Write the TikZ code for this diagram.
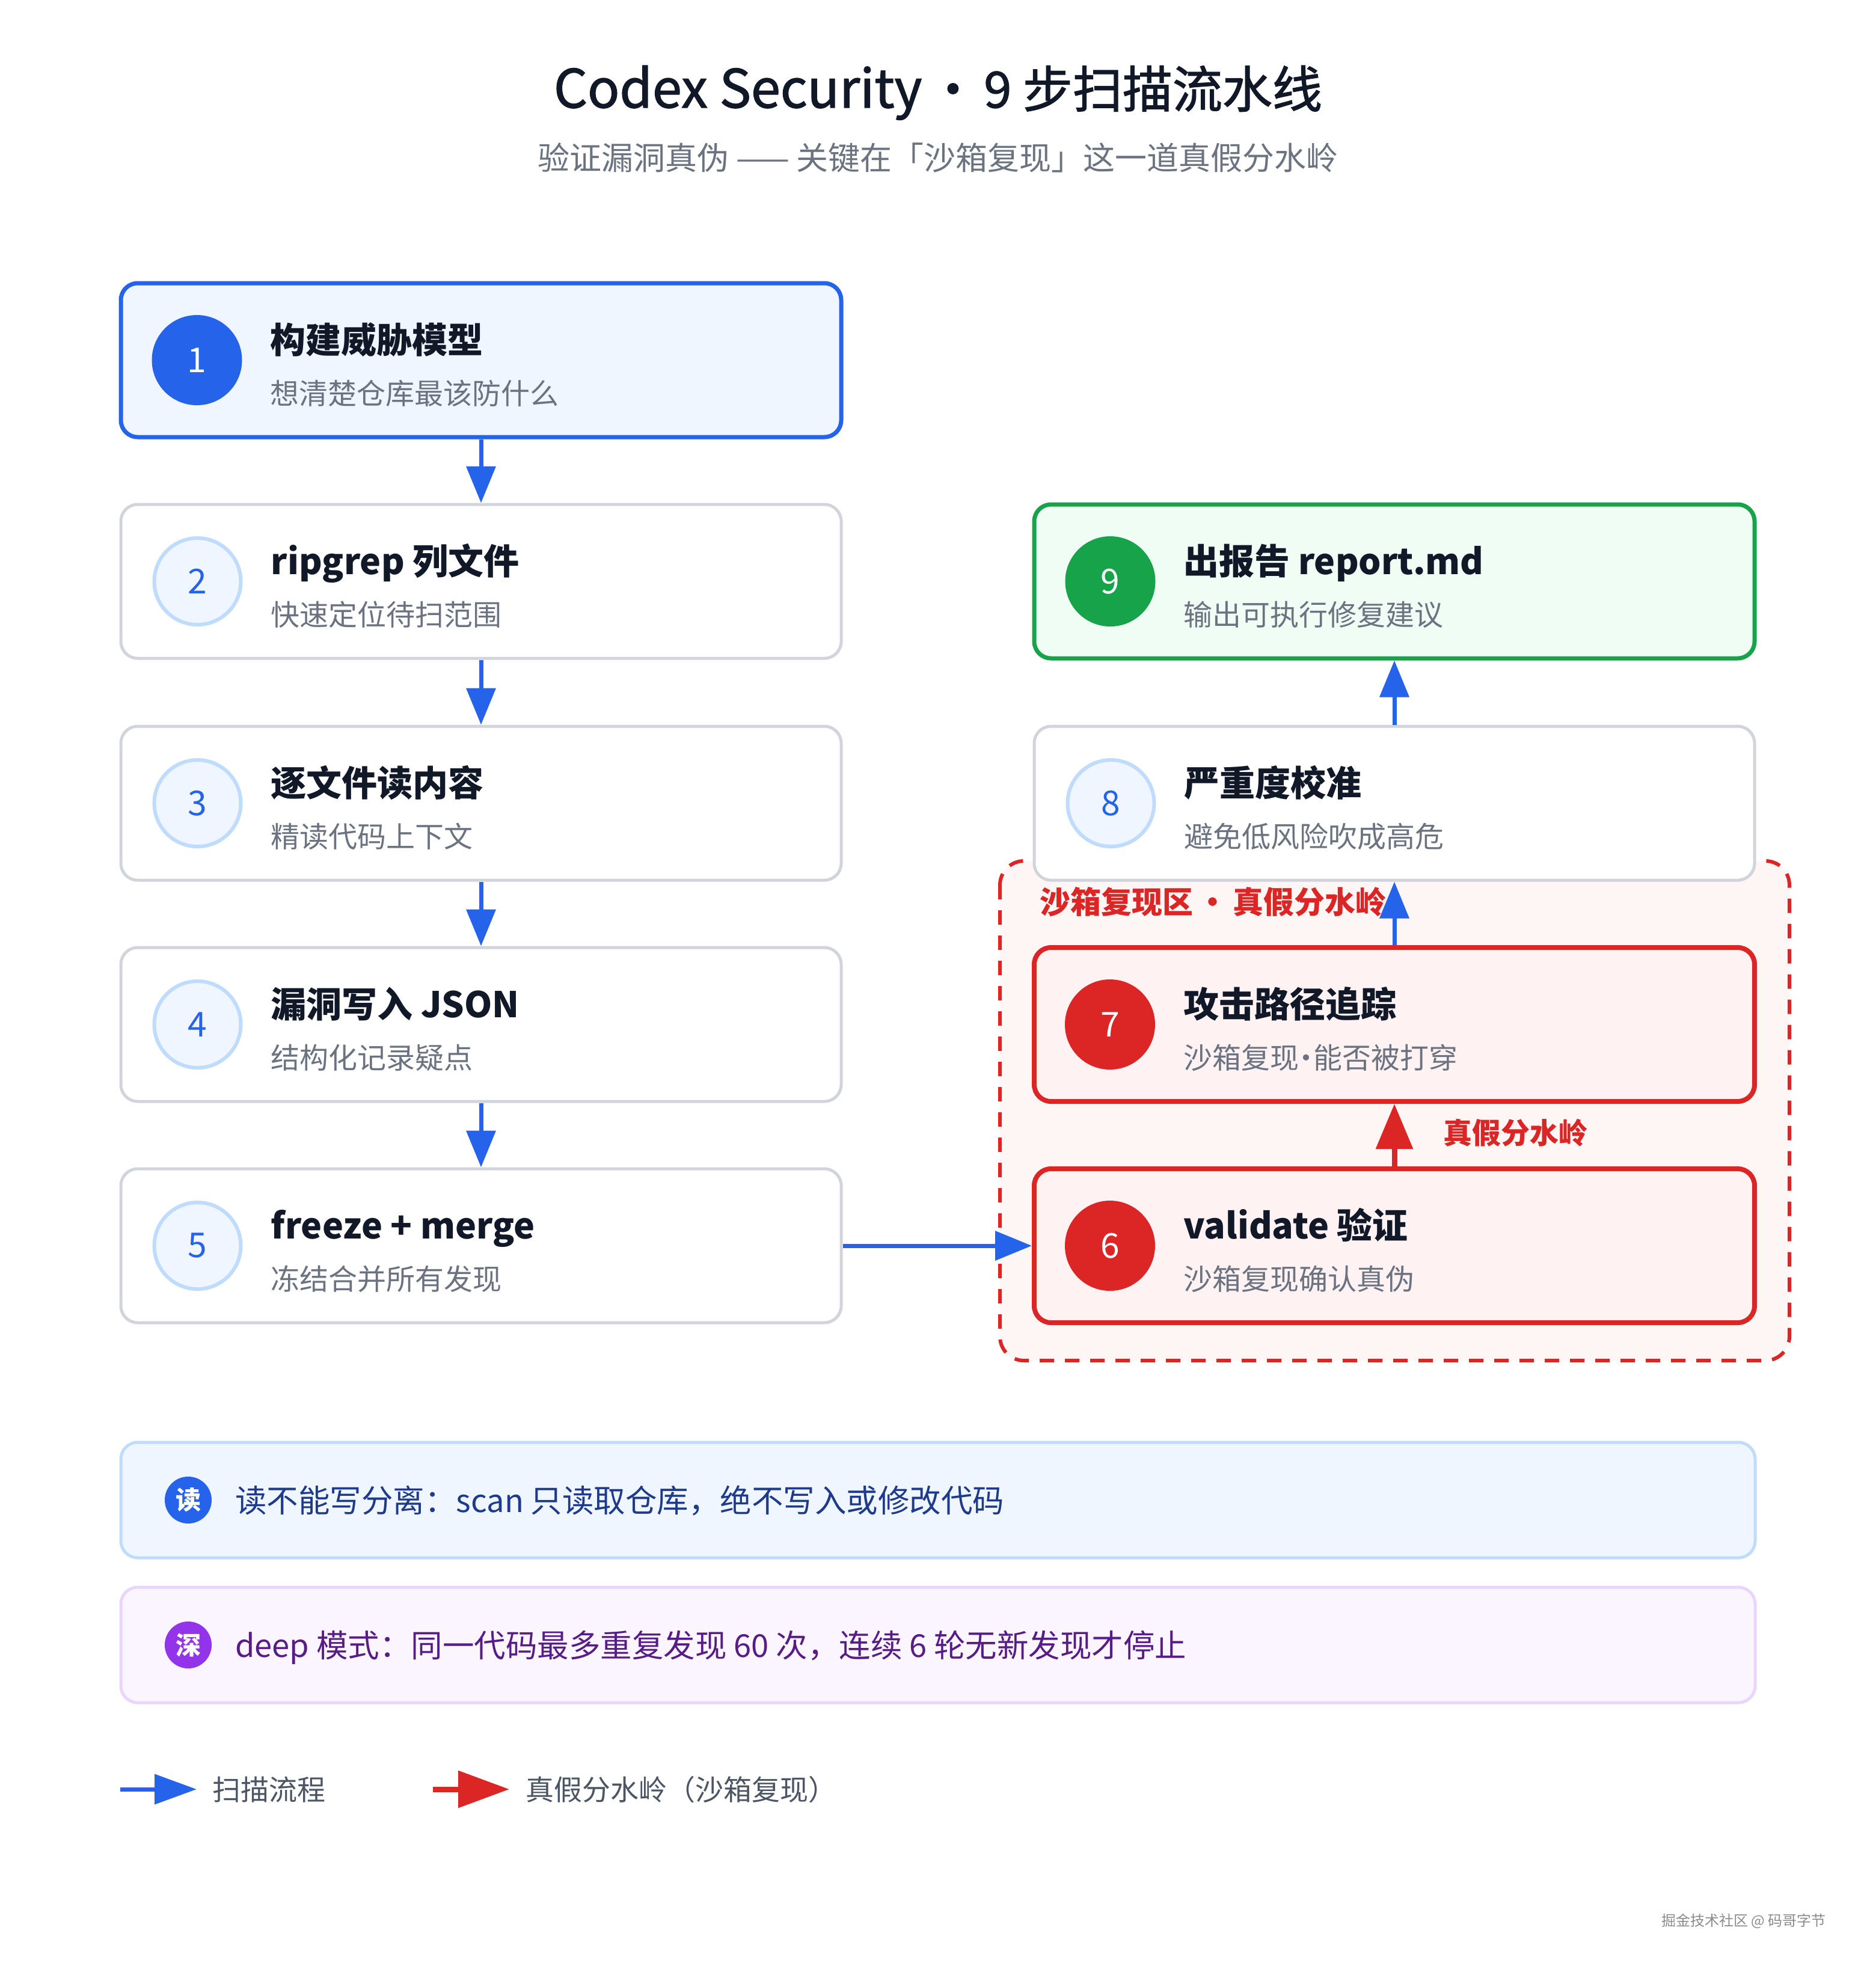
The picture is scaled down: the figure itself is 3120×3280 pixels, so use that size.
\documentclass[tikz,border=0pt]{standalone}
\usepackage{fontspec}
\setmainfont{Noto Sans CJK SC}
\newfontfamily\medfont{Noto Sans CJK SC}[FakeBold=1.5]
\usetikzlibrary{arrows.meta,calc}
\definecolor{cblue}{HTML}{2563EB}
\definecolor{blueL}{HTML}{EFF6FF}
\definecolor{blueM}{HTML}{BFDBFE}
\definecolor{blueD}{HTML}{1E3A8A}
\definecolor{grayB}{HTML}{D1D5DB}
\definecolor{grayT}{HTML}{111827}
\definecolor{grayS}{HTML}{6B7280}
\definecolor{grayL}{HTML}{4B5563}
\definecolor{cgreen}{HTML}{16A34A}
\definecolor{greenL}{HTML}{F0FDF4}
\definecolor{cred}{HTML}{DC2626}
\definecolor{redL}{HTML}{FEF2F2}
\definecolor{redZ}{HTML}{FEF5F5}
\definecolor{cpurple}{HTML}{9333EA}
\definecolor{purpleL}{HTML}{FAF5FF}
\definecolor{purpleM}{HTML}{E9D5FF}
\definecolor{purpleD}{HTML}{581C87}
\definecolor{wmark}{HTML}{8C8C8C}
\tikzset{
  stepbox/.style={draw=grayB, line width=5pt, fill=white, rounded corners=28pt,
    minimum width=1198pt, minimum height=256pt, inner sep=0pt},
  bluebox/.style={stepbox, draw=cblue, fill=blueL, line width=7pt},
  greenbox/.style={stepbox, draw=cgreen, fill=greenL, line width=7pt},
  redbox/.style={stepbox, draw=cred, fill=redL, line width=8pt},
  numc/.style={circle, minimum size=144pt, inner sep=0pt, line width=6pt,
    font=\fontsize{57pt}{57pt}\selectfont},
  lightc/.style={numc, draw=blueM, fill=blueL, text=cblue},
  bluec/.style={numc, draw=cblue, fill=cblue, text=white},
  greenc/.style={numc, draw=cgreen, fill=cgreen, text=white},
  redc/.style={numc, draw=cred, fill=cred, text=white},
  titletext/.style={anchor=base west, inner sep=0pt, text=grayT,
    font=\fontsize{59pt}{68pt}\selectfont\bfseries},
  subtext/.style={anchor=base west, inner sep=0pt, text=grayS,
    font=\fontsize{48pt}{56pt}\selectfont},
  flow/.style={draw=cblue, line width=7pt, -{Triangle[length=61pt,width=48pt]}},
  truth/.style={draw=cred, line width=9pt, -{Triangle[length=75pt,width=60pt]}},
  notebox/.style={rounded corners=28pt, line width=5pt, minimum width=2718pt,
    minimum height=192pt, inner sep=0pt},
  badge/.style={circle, minimum size=78pt, inner sep=0pt, text=white,
    font=\fontsize{42pt}{42pt}\selectfont\bfseries},
  notetext/.style={anchor=base west, inner sep=0pt,
    font=\fontsize{52.5pt}{60pt}\selectfont},
  legtext/.style={anchor=base west, inner sep=0pt, text=grayL,
    font=\fontsize{47pt}{56pt}\selectfont},
}
\newcommand\mkstep[8]{%
  \node[#4] (#1) at (#2,#3) {};
  \node[#5] (#1c) at ($(#1.west)+(130,0)$) {#6};
  \node[titletext] (#1t) at ($(#1.west)+(252,-12)$) {#7};
  \node[subtext] (#1s) at ($(#1.west)+(252,73)$) {#8};
}
\begin{document}
\begin{tikzpicture}[x=1pt,y=-1pt]
\fill[white] (0,0) rectangle (3120,3280);
\useasboundingbox (0,0) rectangle (3120,3280);

% title
\node[anchor=base, inner sep=0pt, text=grayT, font=\fontsize{83pt}{90pt}\selectfont\medfont]
  (title) at (1560,179) {{\fontsize{88pt}{90pt}\selectfont Codex Security}\hspace{0.12em}·\hspace{0.12em}9 步扫描流水线};
\node[anchor=base, inner sep=0pt, text=grayS, font=\fontsize{53pt}{60pt}\selectfont]
  (subtitle) at (1560,282) {验证漏洞真伪 —— 关键在「沙箱复现」这一道真假分水岭};

% sandbox zone
\draw[cred, fill=redZ, line width=6pt, dash pattern=on 24pt off 18pt, rounded corners=40pt]
  (1663,1432) rectangle (2976,2263);

% left column
\mkstep{b1}{800}{599}{bluebox}{bluec}{1}{构建威胁模型}{想清楚仓库最该防什么}
\mkstep{b2}{800}{967}{stepbox}{lightc}{2}{ripgrep 列文件}{快速定位待扫范围}
\mkstep{b3}{800}{1336}{stepbox}{lightc}{3}{逐文件读内容}{精读代码上下文}
\mkstep{b4}{800}{1704}{stepbox}{lightc}{4}{漏洞写入 JSON}{结构化记录疑点}
\mkstep{b5}{800}{2072}{stepbox}{lightc}{5}{freeze + merge}{冻结合并所有发现}

% right column
\mkstep{b9}{2319}{967}{greenbox}{greenc}{9}{出报告 report.md}{输出可执行修复建议}
\mkstep{b8}{2319}{1336}{stepbox}{lightc}{8}{严重度校准}{避免低风险吹成高危}
\mkstep{b7}{2319}{1704}{redbox}{redc}{7}{攻击路径追踪}{沙箱复现\hspace{-0.25em}·\hspace{-0.25em}能否被打穿}
\mkstep{b6}{2319}{2072}{redbox}{redc}{6}{validate 验证}{沙箱复现确认真伪}

% zone label
\node[anchor=base west, inner sep=0pt, text=cred, font=\fontsize{51pt}{56pt}\selectfont\bfseries]
  (zonelabel) at (1729,1519) {沙箱复现区\hspace{0.15em}·\hspace{0.15em}真假分水岭};

% connectors
\draw[flow] (b1.south) -- (b2.north);
\draw[flow] (b2.south) -- (b3.north);
\draw[flow] (b3.south) -- (b4.north);
\draw[flow] (b4.south) -- (b5.north);
\draw[flow] (b5.east) -- (b6.west);
\draw[truth] (b6.north) -- (b7.south);
\draw[flow] (b7.north) -- (b8.south);
\draw[flow] (b8.north) -- (b9.south);
\node[anchor=base west, inner sep=0pt, text=cred, font=\fontsize{48pt}{56pt}\selectfont\bfseries]
  (truthlabel) at (2400,1902) {真假分水岭};

% notes
\node[notebox, draw=blueM, fill=blueL] (n1) at (1560,2495) {};
\node[badge, fill=cblue] (n1b) at (313,2495) {读};
\node[notetext, text=blueD] (n1t) at (391,2515) {读不能写分离：scan 只读取仓库，绝不写入或修改代码};
\node[notebox, draw=purpleM, fill=purpleL] (n2) at (1560,2736) {};
\node[badge, fill=cpurple] (n2b) at (313,2736) {深};
\node[notetext, text=purpleD] (n2t) at (391,2756) {deep 模式：同一代码最多重复发现 60 次，连续 6 轮无新发现才停止};

% legend
\coordinate (la1) at (200,2976);
\coordinate (la2) at (327,2976);
\draw[draw=cblue, line width=7pt, -{Triangle[length=70pt,width=49pt]}] (la1) -- (la2);
\node[legtext] (lt1) at (353,2994) {扫描流程};
\coordinate (lb1) at (720,2976);
\coordinate (lb2) at (847,2976);
\draw[draw=cred, line width=9pt, -{Triangle[length=85pt,width=60pt]}] (lb1) -- (lb2);
\node[legtext] (lt2) at (874,2994) {真假分水岭（沙箱复现）};

% watermark
\node[anchor=base west, inner sep=0pt, text=wmark, font=\fontsize{24pt}{28pt}\selectfont]
  (wm) at (2763,3203) {掘金技术社区 @ 码哥字节};
\end{tikzpicture}
\end{document}
